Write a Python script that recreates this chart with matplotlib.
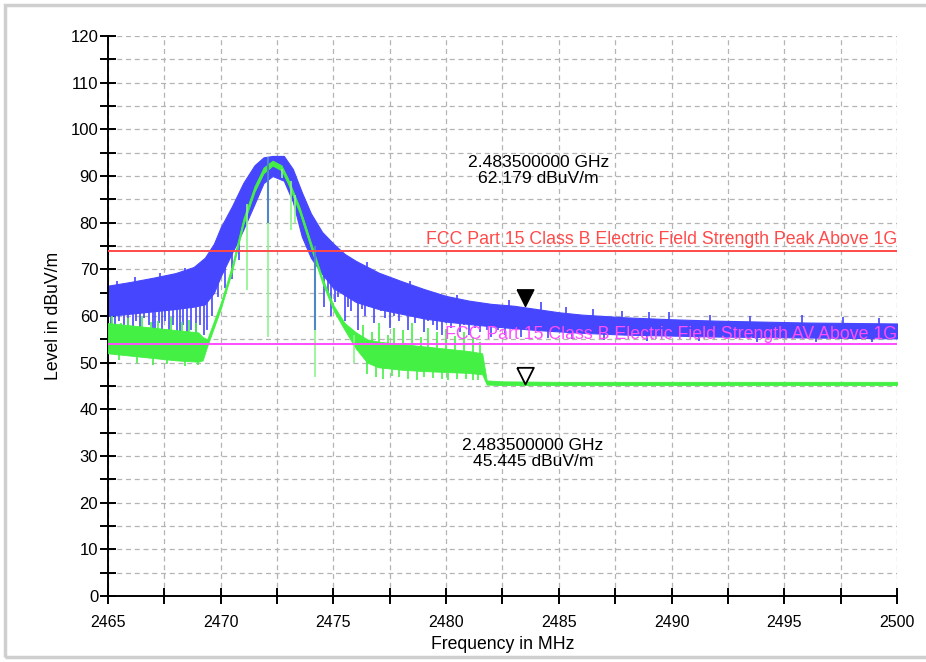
import numpy as np
import matplotlib
matplotlib.use('Agg')
import matplotlib.pyplot as plt
from matplotlib.patches import Rectangle
from matplotlib.ticker import MultipleLocator

plt.rcParams['font.family'] = ['Liberation Sans', 'DejaVu Sans']

# ---- data (MHz / dBuV/m) ----
# peak trace (blue): dense band top / bottom
pk_f   = [2465.0, 2466.0, 2467.0, 2468.0, 2468.8, 2469.3, 2469.7, 2470.0, 2470.5, 2471.0, 2471.5, 2471.9,
          2472.3, 2472.8, 2473.2, 2473.6, 2474.0, 2474.5, 2475.0, 2475.5, 2476.0, 2477.0, 2478.0, 2479.0,
          2480.0, 2481.0, 2482.0, 2483.0, 2484.0, 2485.0, 2486.0, 2488.0, 2490.0, 2492.0, 2494.0, 2496.0,
          2498.0, 2500.0]
pk_top = [66.5, 67.3, 68.2, 69.2, 70.5, 72.5, 75.5, 79.0, 83.5, 88.5, 92.3, 94.0,
          94.3, 94.3, 91.5, 86.5, 82.0, 78.0, 75.5, 73.3, 71.8, 69.3, 67.5, 65.8,
          64.3, 63.3, 62.6, 62.2, 61.5, 60.8, 60.3, 59.7, 59.3, 59.0, 58.8, 58.6,
          58.5, 58.4]
pk_bot = [60.0, 60.5, 61.0, 61.5, 62.0, 62.5, 65.0, 68.5, 73.5, 78.5, 84.0, 88.5,
          90.0, 89.0, 84.5, 77.0, 72.5, 69.0, 66.0, 64.5, 63.0, 61.5, 60.5, 59.5,
          58.8, 58.3, 57.8, 57.4, 57.0, 56.7, 56.4, 56.0, 55.8, 55.6, 55.5, 55.4,
          55.3, 55.2]
# downward dips of the peak trace
pk_dip_f = [2465.15, 2465.3, 2465.5, 2465.7, 2465.9, 2466.1, 2466.25, 2466.4, 2466.6, 2466.8, 2467.0,
            2467.1, 2467.25, 2467.4, 2467.55, 2467.7, 2467.9, 2468.05, 2468.2, 2468.35, 2468.5,
            2468.7, 2468.9, 2469.1, 2469.25, 2469.4, 2469.6, 2469.9, 2470.2, 2470.5, 2470.8,
            2474.6, 2474.75, 2474.9, 2475.05, 2475.2, 2475.5, 2475.65, 2475.8, 2476.1, 2476.25, 2476.4,
            2476.6, 2476.8, 2477.1, 2477.3, 2477.5, 2477.7, 2477.9, 2478.1,
            2478.3, 2478.6, 2478.8, 2479.0, 2479.2, 2479.4, 2479.6, 2479.8, 2480.0, 2480.2, 2480.4,
            2480.6, 2480.8, 2481.0, 2481.3, 2481.5, 2481.8, 2482.0, 2482.3, 2482.6,
            2483.3, 2484.5, 2485.6, 2487.0, 2488.9, 2491.2, 2493.8, 2496.4, 2498.9]
pk_dip_v = [58.0, 57.0, 59.0, 58.0, 57.0, 56.0, 59.0, 57.5, 59.5, 58.0, 57.0,
            55.5, 58.5, 57.0, 59.0, 56.0, 58.0, 56.5, 55.0, 58.0, 56.5,
            57.0, 55.5, 58.0, 56.0, 57.0, 60.0, 64.0, 66.0, 68.0, 72.0,
            62.0, 65.0, 60.0, 63.0, 64.0, 59.0, 62.0, 61.0, 57.0, 61.5, 60.0,
            62.0, 58.5, 61.0, 59.5, 57.5, 60.0, 59.0, 61.0,
            57.0, 58.5, 60.0, 56.5, 59.0, 58.0, 57.0, 56.0, 58.5, 57.5, 59.0,
            56.5, 58.0, 56.0, 57.5, 56.5, 57.0, 55.5, 57.0, 56.0,
            55.5, 55.3, 55.0, 54.8, 54.7, 54.6, 54.5, 54.4, 54.5]
# small upward spikes of the peak trace
pk_up_f = [2465.4, 2466.2, 2467.3, 2468.4, 2476.5, 2478.4, 2480.5, 2482.8, 2484.2, 2485.3, 2486.5,
           2487.8, 2489.0, 2489.9, 2491.7, 2493.5, 2495.8, 2497.6, 2499.2]
pk_up_v = [67.6, 68.4, 69.3, 70.3, 71.5, 67.6, 64.5, 63.4, 63.0, 62.0, 61.5,
           61.0, 60.9, 60.8, 60.3, 60.0, 60.2, 59.7, 59.6]

# average trace (green): band top / bottom
av_f   = [2465.0, 2466.0, 2467.0, 2468.0, 2469.0, 2469.2, 2469.4, 2470.0, 2470.5, 2471.0, 2471.5, 2471.9,
          2472.3, 2472.7, 2473.0, 2473.5, 2474.0, 2474.5, 2475.0, 2475.5, 2476.0, 2476.5, 2477.0, 2478.0,
          2479.0, 2480.0, 2481.0, 2481.6, 2481.8, 2482.5, 2485.0, 2490.0, 2495.0, 2500.0]
av_top = [58.5, 58.0, 57.5, 57.0, 56.5, 55.5, 55.0, 62.8, 70.8, 80.8, 87.8, 91.8,
          93.3, 92.3, 89.3, 83.3, 75.8, 68.3, 62.3, 58.5, 56.5, 55.0, 54.5, 54.0,
          53.5, 53.0, 52.5, 52.0, 46.2, 46.0, 45.9, 45.9, 45.9, 45.9]
av_bot = [52.0, 51.5, 51.0, 50.5, 50.2, 50.5, 53.5, 61.5, 69.5, 79.5, 86.6, 90.6,
          92.2, 91.2, 88.2, 82.1, 74.6, 67.2, 61.2, 57.0, 53.0, 50.0, 49.0, 48.5,
          48.2, 48.0, 47.8, 47.5, 45.3, 45.2, 45.2, 45.2, 45.2, 45.2]
av_up_f = [2465.2, 2465.6, 2465.9, 2466.5, 2466.9, 2467.2, 2467.8, 2468.3, 2468.6, 2468.9,
           2476.3, 2476.7, 2477.0, 2477.4, 2477.7, 2478.1, 2478.5, 2478.9, 2479.2, 2479.6,
           2480.0, 2480.4, 2480.8, 2481.2, 2481.5]
av_up_v = [60.0, 58.5, 59.5, 60.0, 58.8, 59.0, 59.8, 58.8, 59.2, 58.5,
           58.0, 56.5, 58.5, 56.0, 57.5, 57.0, 58.5, 55.5, 57.5, 56.5,
           57.2, 55.8, 56.5, 55.4, 54.5]
av_dn_f = [2465.5, 2466.3, 2467.0, 2467.6, 2468.4, 2469.0,
           2476.5, 2476.9, 2477.2, 2477.6, 2477.9, 2478.3, 2478.7, 2479.0, 2479.4, 2479.8, 2480.1,
           2480.5, 2480.9, 2481.2, 2481.4]
av_dn_v = [50.5, 50.0, 49.5, 49.8, 49.3, 49.5,
           47.5, 47.0, 46.5, 47.2, 47.0, 46.5, 46.2, 46.9, 46.8, 46.4, 46.3,
           46.6, 46.5, 46.3, 46.2]
# light dips inside the main lobe (from, to)
av_dip_f  = [2471.15, 2472.1, 2472.7, 2473.1, 2473.3, 2474.2, 2475.9]
av_dip_hi = [84.0, 92.5, 91.5, 89.0, 86.0, 57.0, 56.0]
av_dip_lo = [65.6, 55.5, 89.6, 78.4, 80.0, 47.0, 50.0]
# two steel-blue dips where both traces drop
mix_f  = [2472.1, 2474.2]
mix_hi = [94.0, 75.0]
mix_lo = [80.0, 57.0]

limit_pk = 74.0
limit_av = 54.0
mk_f = 2483.5
mk_pk = 62.179
mk_av = 45.445

blue = '#4646ff'
green = '#44f044'

fig = plt.figure(figsize=(9.26, 6.62), dpi=100)
fig.patches.append(Rectangle((5 / 926, 5 / 662), 1.0, 652 / 662, transform=fig.transFigure,
                             fill=False, edgecolor='#cfcfcf', lw=2.5))
ax = fig.add_axes([0.1166, 0.0997, 0.8521, 0.8459])

# peak trace
ax.fill_between(pk_f, pk_bot, pk_top, color=blue, lw=0.8, zorder=2)
ax.vlines(pk_dip_f, pk_dip_v, np.interp(pk_dip_f, pk_f, pk_bot) + 0.5, color=blue, lw=1.2, zorder=2)
ax.vlines(pk_up_f, np.interp(pk_up_f, pk_f, pk_top) - 0.5, pk_up_v, color=blue, lw=1.2, zorder=2)

# average trace
ax.fill_between(av_f, av_bot, av_top, color=green, lw=0.6, zorder=3)
ax.vlines(av_up_f, np.interp(av_up_f, av_f, av_top) - 0.5, av_up_v, color=green, lw=1.2, zorder=3)
ax.vlines(av_dn_f, av_dn_v, np.interp(av_dn_f, av_f, av_bot) + 0.5, color=green, lw=1.2, zorder=3)
ax.vlines(av_dip_f, av_dip_lo, av_dip_hi, color='#8cf58c', lw=1.2, zorder=3)
ax.vlines(mix_f, mix_lo, mix_hi, color='#4f86c6', lw=1.5, zorder=4)

# limit lines
ax.axhline(limit_pk, color='#ff4a4a', lw=1.4, zorder=5)
ax.axhline(limit_av, color='#ff4dff', lw=1.4, zorder=5)
ax.text(2500, limit_pk + 0.5, 'FCC Part 15 Class B Electric Field Strength Peak Above 1G',
        color='#ff4a4a', fontsize=12.8, ha='right', va='bottom', zorder=6)
ax.text(2500, limit_av + 0.3, 'FCC Part 15 Class B Electric Field Strength AV Above 1G',
        color='#ff4dff', fontsize=12.8, ha='right', va='bottom', zorder=6)

# markers, tip on the point
tri = [(-0.5, 1.0), (0.5, 1.0), (0.0, 0.0), (-0.5, 1.0)]
ax.plot([mk_f], [mk_pk], marker=tri, markersize=24, color='black', ls='none', zorder=7)
ax.plot([mk_f], [mk_av], marker=tri, markersize=24, markerfacecolor='white',
        markeredgecolor='black', markeredgewidth=1.3, ls='none', zorder=7)
ax.text(mk_f + 0.6, 91.2, '%.9f GHz\n%.3f dBuV/m' % (mk_f / 1000, mk_pk), ha='center', va='center',
        fontsize=12.6, linespacing=1.05, zorder=6)
ax.text(mk_f + 0.35, 30.5, '%.9f GHz\n%.3f dBuV/m' % (mk_f / 1000, mk_av), ha='center', va='center',
        fontsize=12.6, linespacing=1.05, zorder=6)

ax.set_xlim(2465, 2500)
ax.set_ylim(0, 120)
ax.xaxis.set_major_locator(MultipleLocator(5))
ax.xaxis.set_minor_locator(MultipleLocator(2.5))
ax.yaxis.set_major_locator(MultipleLocator(10))
ax.yaxis.set_minor_locator(MultipleLocator(5))
ax.grid(True, which='both', color='#b4b4b4', ls=(0, (4, 3)), lw=0.9, zorder=0)
ax.set_axisbelow(True)
for s in ['top', 'right']:
    ax.spines[s].set_visible(False)
for s in ['left', 'bottom']:
    ax.spines[s].set_linewidth(1.4)
ax.tick_params(which='both', direction='inout', length=12, width=1.4)
ax.tick_params(axis='y', pad=1, labelsize=12)
ax.tick_params(axis='x', pad=8, labelsize=11.5)
ax.set_xlabel('Frequency in MHz', fontsize=12.7, labelpad=4)
ax.set_ylabel('Level in dBuV/m', fontsize=12.7, labelpad=6)

fig.savefig('out.png', dpi=100)
